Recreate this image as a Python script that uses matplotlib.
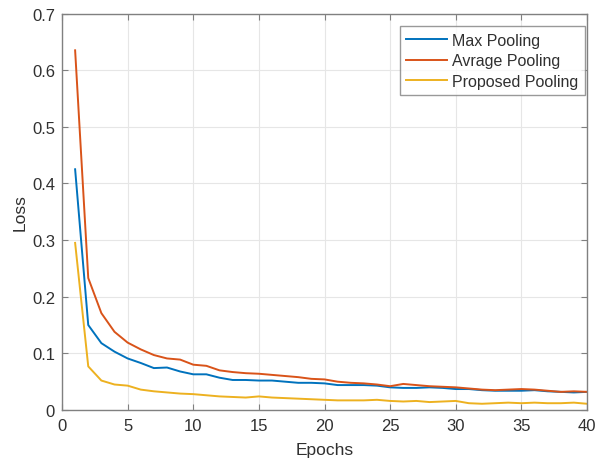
import matplotlib
matplotlib.use("Agg")
import matplotlib.pyplot as plt
import numpy as np

plt.rcParams['font.family'] = ['Liberation Sans', 'DejaVu Sans']

epochs = list(range(1, 41))
max_pool = [0.425, 0.150, 0.118, 0.103, 0.091, 0.083, 0.074, 0.075, 0.068, 0.063,
            0.063, 0.057, 0.053, 0.053, 0.052, 0.052, 0.050, 0.048, 0.048, 0.047,
            0.044, 0.044, 0.044, 0.043, 0.040, 0.039, 0.039, 0.040, 0.039, 0.037,
            0.037, 0.035, 0.034, 0.034, 0.034, 0.035, 0.033, 0.032, 0.031, 0.032]
avg_pool = [0.635, 0.233, 0.171, 0.138, 0.119, 0.107, 0.097, 0.091, 0.089, 0.080,
            0.078, 0.070, 0.067, 0.065, 0.064, 0.062, 0.060, 0.058, 0.055, 0.054,
            0.050, 0.048, 0.047, 0.045, 0.042, 0.046, 0.044, 0.042, 0.041, 0.040,
            0.038, 0.036, 0.035, 0.036, 0.037, 0.036, 0.034, 0.032, 0.033, 0.032]
prop_pool = [0.295, 0.077, 0.052, 0.045, 0.043, 0.036, 0.033, 0.031, 0.029, 0.028,
             0.026, 0.024, 0.023, 0.022, 0.024, 0.022, 0.021, 0.020, 0.019, 0.018,
             0.017, 0.017, 0.017, 0.018, 0.016, 0.015, 0.016, 0.014, 0.015, 0.016,
             0.012, 0.011, 0.012, 0.013, 0.012, 0.013, 0.012, 0.012, 0.013, 0.011]

fig = plt.figure(figsize=(5.95, 4.6), dpi=100)
ax = fig.add_axes([62/595, (460-411)/460, (587-62)/595, (411-14.5)/460])

ax.plot(epochs, max_pool, color=(0, 0.447, 0.741), lw=1.4, label='Max Pooling')
ax.plot(epochs, avg_pool, color=(0.85, 0.325, 0.098), lw=1.4, label='Avrage Pooling')
ax.plot(epochs, prop_pool, color=(0.929, 0.694, 0.125), lw=1.4, label='Proposed Pooling')

ax.set_xlim(0, 40)
ax.set_ylim(0, 0.7)
ax.set_xticks(range(0, 41, 5))
ax.set_yticks(np.arange(0, 0.71, 0.1))
ax.set_yticklabels(['0', '0.1', '0.2', '0.3', '0.4', '0.5', '0.6', '0.7'])
ax.grid(True, color='#e6e6e6', lw=0.8)
ax.set_axisbelow(True)
for s in ax.spines.values():
    s.set_color('#808080')
    s.set_linewidth(1.0)
ax.tick_params(direction='in', length=4, color='#808080', labelsize=12,
               labelcolor='#303030', top=True, right=True)
ax.tick_params(axis='x', pad=6)
ax.tick_params(axis='y', pad=5)
ax.set_xlabel('Epochs', fontsize=12.5, color='#303030', labelpad=6)
ax.set_ylabel('Loss', fontsize=12.5, color='#303030', labelpad=3)

leg = ax.legend(loc='upper right', fontsize=11.5, frameon=True, fancybox=False,
                edgecolor='#808080', borderpad=0.4, handlelength=2.6,
                labelspacing=0.35, handletextpad=0.3, borderaxespad=0,
                bbox_to_anchor=(0.996, 0.968))
leg.get_frame().set_linewidth(1.0)
for t in leg.get_texts():
    t.set_color('#303030')

fig.savefig('out.png', dpi=100)
